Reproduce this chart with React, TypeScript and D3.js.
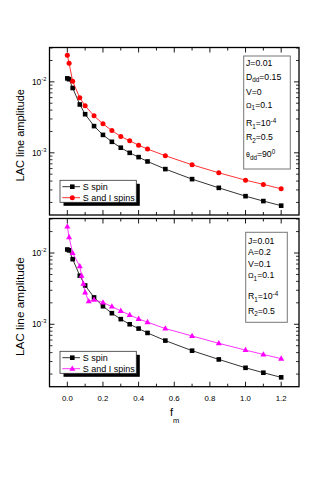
import React from 'react';
import * as d3 from 'd3';

// f_m values (x) shared by the S spin runs and the dipolar run
const fm = [0, 0.01, 0.03, 0.07, 0.1, 0.15, 0.2, 0.25, 0.3, 0.35, 0.4, 0.45, 0.55, 0.7, 0.85, 1.0, 1.1, 1.2];
const sSpin = [1.12e-2, 1.09e-2, 8.2e-3, 4.8e-3, 3.5e-3, 2.38e-3, 1.79e-3, 1.43e-3, 1.18e-3, 1.0e-3, 8.7e-4, 7.56e-4, 5.9e-4, 4.26e-4, 3.21e-4, 2.45e-4, 2.09e-4, 1.8e-4];
const sIDipolar = [2.38e-2, 1.83e-2, 1.02e-2, 5.95e-3, 4.6e-3, 3.32e-3, 2.56e-3, 2.06e-3, 1.7e-3, 1.48e-3, 1.28e-3, 1.13e-3, 9.1e-4, 6.78e-4, 5.23e-4, 4.12e-4, 3.59e-4, 3.11e-4];

// hyperfine run has a few extra points near the dip
const fmHyper = [0, 0.01, 0.03, 0.07, 0.08, 0.09, 0.1, 0.12, 0.15, 0.2, 0.25, 0.3, 0.35, 0.4, 0.45, 0.55, 0.7, 0.85, 1.0, 1.1, 1.2];
const sIHyper = [2.36e-2, 1.66e-2, 1.0e-2, 6.5e-3, 4.8e-3, 3.7e-3, 2.8e-3, 2.1e-3, 2.2e-3, 2.02e-3, 1.77e-3, 1.54e-3, 1.35e-3, 1.19e-3, 1.07e-3, 8.7e-4, 6.85e-4, 5.4e-4, 4.34e-4, 3.77e-4, 3.29e-4];

const xTicks = [0, 0.2, 0.4, 0.6, 0.8, 1.0, 1.2];
const xMinor = [0.1, 0.3, 0.5, 0.7, 0.9, 1.1];
const yMajor = [1e-3, 1e-2];
const yLabels = ['-3', '-2'];

const topParams = ['J=0.01', 'Ddd=0.15', 'V=0', 'Ω1=0.1', 'R1=10-4', 'R2=0.5', 'θdd=900'];
const bottomParams = ['J=0.01', 'A=0.2', 'V=0.1', 'Ω1=0.1', 'R1=10-4', 'R2=0.5'];
const legendNames = ['S spin', 'S and I spins'];

const FONT = '"Liberation Sans", Arial, Helvetica, sans-serif';
const LEFT = 49.5;
const RIGHT = 299;
const PF = 8.7; // parameter box font size

const x = d3.scaleLinear().domain([-0.1, 1.3]).range([LEFT, RIGHT]);

function Marker({ kind, cx, cy, color }) {
  if (kind === 'square') return <rect x={cx - 2.3} y={cy - 2.3} width={4.6} height={4.6} fill={color} />;
  if (kind === 'circle') return <circle cx={cx} cy={cy} r={2.5} fill={color} />;
  return <path d={`M${cx},${cy - 3.3}L${cx + 3},${cy + 2}L${cx - 3},${cy + 2}Z`} fill={color} />;
}

// renders "R1=10-4" style strings with sub/superscripts
function ParamText({ s, px, py }) {
  const sub = (t) => <tspan fontSize={6.3} dy={2.5}>{t}</tspan>;
  const back = (t, d) => <tspan fontSize={PF} dy={d}>{t}</tspan>;
  if (s.startsWith('Ddd')) return <text x={px} y={py}>D{sub('dd')}{back(s.slice(3), -2.5)}</text>;
  if (s.startsWith('θdd'))
    return (
      <text x={px} y={py}>
        <tspan fontSize={7}>θ</tspan>{sub('dd')}{back('=90', -2.5)}
        <tspan fontSize={6.3} dy={-3.5}>0</tspan>
      </text>
    );
  if (s.startsWith('Ω1') || s.startsWith('R2'))
    return (
      <text x={px} y={py}>
        <tspan fontSize={s[0] === 'Ω' ? 7.5 : PF}>{s[0]}</tspan>
        {sub(s[1])}
        {back(s.slice(2), -2.5)}
      </text>
    );
  if (s.startsWith('R1'))
    return (
      <text x={px} y={py}>
        R{sub('1')}{back('=10', -2.5)}
        <tspan fontSize={6.3} dy={-3.5}>-4</tspan>
      </text>
    );
  return <text x={px} y={py}>{s}</text>;
}

function Panel({ top, bottom, series, params, paramBox, paramY, legendY, showX, labelSize }) {
  const y = d3.scaleLog().domain([1.33e-4, 3.05e-2]).range([bottom, top]);
  const minor = [];
  [1e-4, 1e-3, 1e-2].forEach((d) => {
    for (let k = 2; k <= 9; k++) {
      const v = d * k;
      if (v > y.domain()[0] && v < y.domain()[1]) minor.push(v);
    }
  });
  const line = d3.line().x((d) => x(d[0])).y((d) => y(d[1]));

  return (
    <g>
      {series.map((s, i) => (
        <g key={i}>
          <path d={line(s.xs.map((v, j) => [v, s.ys[j]]))} fill="none" stroke={s.color} strokeWidth={0.8} />
          {s.xs.map((v, j) => (
            <Marker key={j} kind={s.kind} cx={x(v)} cy={y(s.ys[j])} color={s.color} />
          ))}
        </g>
      ))}

      {/* frame and ticks */}
      <rect x={LEFT} y={top} width={RIGHT - LEFT} height={bottom - top} fill="none" stroke="#000" strokeWidth={1.3} />
      {xTicks.map((t) => (
        <g key={'xm' + t}>
          <line x1={x(t)} x2={x(t)} y1={bottom} y2={bottom - 5} stroke="#000" strokeWidth={0.9} />
          <line x1={x(t)} x2={x(t)} y1={top} y2={top + 5} stroke="#000" strokeWidth={0.9} />
        </g>
      ))}
      {xMinor.map((t) => (
        <g key={'xn' + t}>
          <line x1={x(t)} x2={x(t)} y1={bottom} y2={bottom - 3} stroke="#000" strokeWidth={0.9} />
          <line x1={x(t)} x2={x(t)} y1={top} y2={top + 3} stroke="#000" strokeWidth={0.9} />
        </g>
      ))}
      {yMajor.map((t) => (
        <g key={'ym' + t}>
          <line x1={LEFT} x2={LEFT + 5} y1={y(t)} y2={y(t)} stroke="#000" strokeWidth={0.9} />
          <line x1={RIGHT} x2={RIGHT - 5} y1={y(t)} y2={y(t)} stroke="#000" strokeWidth={0.9} />
        </g>
      ))}
      {minor.map((t) => (
        <g key={'yn' + t}>
          <line x1={LEFT} x2={LEFT + 3} y1={y(t)} y2={y(t)} stroke="#000" strokeWidth={0.8} />
          <line x1={RIGHT} x2={RIGHT - 3} y1={y(t)} y2={y(t)} stroke="#000" strokeWidth={0.8} />
        </g>
      ))}

      {/* y tick labels */}
      {yMajor.map((t, i) => (
        <text key={'yl' + t} x={46.5} y={y(t) + 3.2} textAnchor="end" fontSize={8.5}>
          10<tspan fontSize={5.8} dy={-4.2}>{yLabels[i]}</tspan>
        </text>
      ))}

      {showX &&
        xTicks.map((t) => (
          <text key={'xl' + t} x={x(t)} y={400.5} textAnchor="middle" fontSize={7.8}>
            {t.toFixed(1)}
          </text>
        ))}

      <text
        transform={`translate(23.5,${(top + bottom) / 2 + 4}) rotate(-90)`}
        textAnchor="middle"
        fontSize={labelSize}
      >
        LAC line amplitude
      </text>

      {/* legend with drop shadow */}
      <rect x={63.5} y={legendY + 3.5} width={76.3} height={22} fill="#000" />
      <rect x={60} y={legendY} width={76.3} height={22} fill="#fff" stroke="#333" strokeWidth={0.8} />
      {series.map((s, i) => {
        const ly = legendY + 6.4 + i * 11;
        return (
          <g key={'lg' + i}>
            <line x1={62.3} x2={80} y1={ly} y2={ly} stroke={s.color} strokeWidth={0.8} />
            <Marker kind={s.kind} cx={72.3} cy={ly} color={s.color} />
            <text x={82.7} y={ly + 3.2} fontSize={9}>
              {legendNames[i]}
            </text>
          </g>
        );
      })}

      {/* parameters box */}
      <rect
        x={paramBox[0]}
        y={paramBox[1]}
        width={paramBox[2] - paramBox[0]}
        height={paramBox[3] - paramBox[1]}
        fill="#fff"
        stroke="#777"
        strokeWidth={1}
      />
      <g fontSize={PF}>
        {params.map((p, i) => (
          <ParamText key={p} s={p} px={paramBox[0] + 2.3} py={paramY[i]} />
        ))}
      </g>
    </g>
  );
}

export default function App() {
  const topSeries = [
    { xs: fm, ys: sSpin, color: '#000000', kind: 'square' },
    { xs: fm, ys: sIDipolar, color: '#ff0000', kind: 'circle' },
  ];
  const bottomSeries = [
    { xs: fm, ys: sSpin, color: '#000000', kind: 'square' },
    { xs: fmHyper, ys: sIHyper, color: '#ff00ff', kind: 'triangle' },
  ];
  return (
    <svg
      width={332}
      height={478}
      style={{ position: 'absolute', left: 0, top: 0, background: '#fff' }}
      fontFamily={FONT}
      fill="#000"
    >
      <Panel
        top={47.5}
        bottom={215}
        series={topSeries}
        params={topParams}
        paramBox={[243.7, 56, 290.3, 169]}
        paramY={[66.3, 79.5, 95.3, 107.5, 126, 140, 157]}
        legendY={180.3}
        showX={false}
        labelSize={11}
      />
      <Panel
        top={218.5}
        bottom={386.7}
        series={bottomSeries}
        params={bottomParams}
        paramBox={[245.7, 232.3, 287.3, 322.3]}
        paramY={[244, 255.3, 267, 278.2, 299, 313.5]}
        legendY={351.3}
        showX={true}
        labelSize={11.8}
      />
      <text x={170} y={416} fontSize={11} fill="#000">
        f<tspan fontSize={7.5} dy={6.5} fill="#000">m</tspan>
      </text>
    </svg>
  );
}
